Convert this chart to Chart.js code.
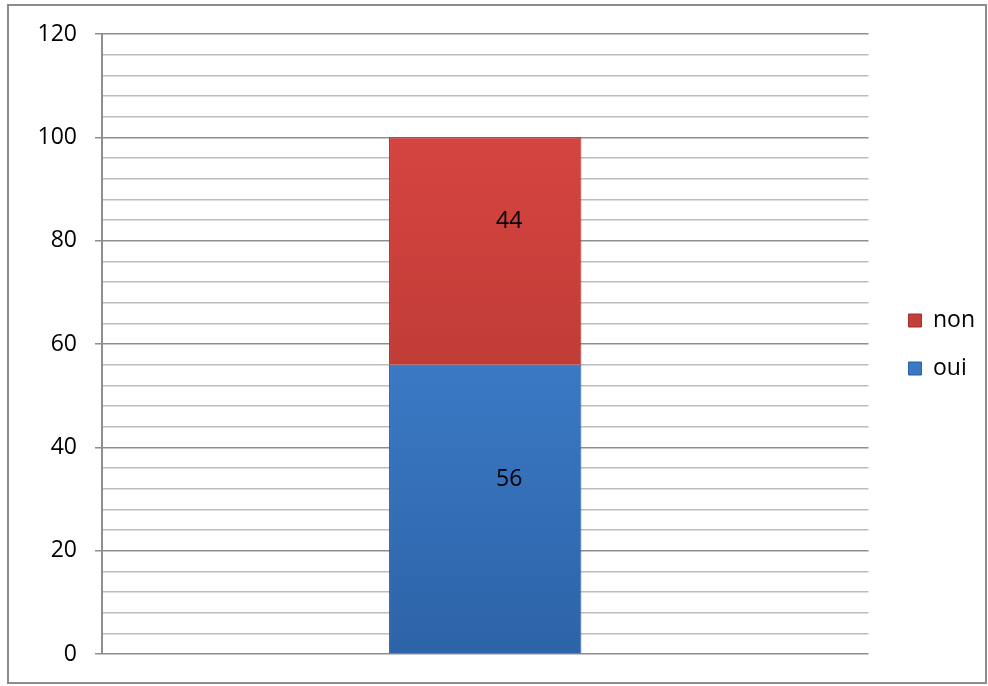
<!DOCTYPE html>
<html lang="fr">
<head>
  <meta charset="UTF-8">
  <title>oui / non</title>
  <script src="https://cdn.jsdelivr.net/npm/chart.js"></script>
  <style>
    body { margin: 0; background: #fff; }
    #wrap { position: relative; width: 988px; height: 686px; }
  </style>
</head>
<body>
  <div id="wrap"><canvas id="barChart"></canvas></div>

  <script>
    const categories = [""];
    const ouiValues = [56];
    const nonValues = [44];
    const yTickLabels = [0, 20, 40, 60, 80, 100, 120];

    const font = "'Open Sans', sans-serif";

    function grad(ctx, area, top, bottom) {
      const g = ctx.createLinearGradient(0, area.top, 0, area.bottom);
      g.addColorStop(0, top);
      g.addColorStop(1, bottom);
      return g;
    }

    // cadre gris autour du graphique
    const frame = {
      id: "frame",
      beforeDraw(chart) {
        const c = chart.ctx;
        c.save();
        c.fillStyle = "#fff";
        c.fillRect(0, 0, chart.width, chart.height);
        c.strokeStyle = "#8c8c8c";
        c.lineWidth = 2;
        c.strokeRect(8, 5, 978, 678);
        c.restore();
      }
    };

    // étiquettes de valeurs
    const valueLabels = {
      id: "valueLabels",
      afterDatasetsDraw(chart) {
        const c = chart.ctx;
        c.save();
        c.font = "23px " + font;
        c.fillStyle = "#000";
        c.textAlign = "center";
        c.textBaseline = "middle";
        chart.data.datasets.forEach((ds, i) => {
          chart.getDatasetMeta(i).data.forEach((bar, j) => {
            const p = bar.getCenterPoint();
            c.fillText(ds.data[j], p.x + 24, p.y - 30);
          });
        });
        c.restore();
      }
    };

    new Chart(document.getElementById("barChart"), {
      type: "bar",
      data: {
        labels: categories,
        datasets: [
          {
            label: "oui",
            data: ouiValues,
            backgroundColor: ctx => {
              const a = ctx.chart.chartArea;
              return a ? grad(ctx.chart.ctx, a, "#4a92e6", "#2d63a8") : "#3c7fd0";
            },
            borderColor: "#2b5d9c",
            borderWidth: 1
          },
          {
            label: "non",
            data: nonValues,
            backgroundColor: ctx => {
              const a = ctx.chart.chartArea;
              return a ? grad(ctx.chart.ctx, a, "#de4744", "#a8332c") : "#cc4340";
            },
            borderColor: "#9a302a",
            borderWidth: 1
          }
        ]
      },
      options: {
        responsive: true,
        maintainAspectRatio: false,
        animation: false,
        categoryPercentage: 1,
        barPercentage: 0.251,
        layout: { padding: { left: 0, top: 34, bottom: 31, right: 3 } },
        plugins: {
          legend: {
            position: "right",
            reverse: true,
            labels: {
              font: { family: font, size: 23 },
              color: "#000",
              boxWidth: 13,
              boxHeight: 13,
              padding: 25
            }
          },
          tooltip: { enabled: false }
        },
        scales: {
          x: { stacked: true, display: false },
          y: {
            stacked: true,
            min: 0,
            max: 120,
            afterFit(s) { s.width = 102; },
            afterBuildTicks(s) {
              const t = [];
              for (let v = 0; v <= 120; v += 4) t.push({ value: v });
              s.ticks = t;
            },
            ticks: {
              font: { family: font, size: 23 },
              color: "#000",
              padding: 18,
              autoSkip: false,
              callback: v => yTickLabels.includes(v) ? v : ""
            },
            grid: {
              color: ctx => ctx.tick && ctx.tick.value % 20 === 0 ? "#8e8e8e" : "#bcbcbc",
              tickColor: ctx => ctx.tick && ctx.tick.value % 20 === 0 ? "#8e8e8e" : "rgba(0,0,0,0)",
              lineWidth: 1.5,
              tickLength: 7
            },
            border: { color: "#8e8e8e", width: 2 }
          },
          pad: {
            type: "linear",
            position: "right",
            display: true,
            afterFit(s) { s.width = 15; },
            ticks: { display: false },
            grid: { display: false, drawTicks: false },
            border: { display: false }
          }
        }
      },
      plugins: [frame, valueLabels]
    });
  </script>
</body>
</html>
